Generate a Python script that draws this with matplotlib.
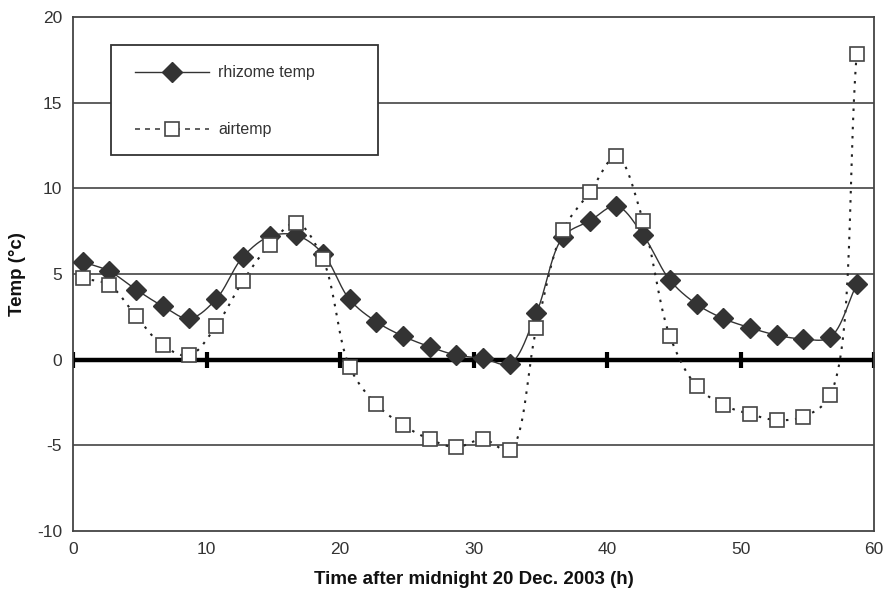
import numpy as np
import matplotlib
matplotlib.use("Agg")
import matplotlib.pyplot as plt
from matplotlib.patches import Rectangle
from matplotlib.lines import Line2D

plt.rcParams['font.family'] = ['Liberation Sans', 'DejaVu Sans']
plt.rcParams['axes.unicode_minus'] = False

hours = [0.7, 2.7, 4.7, 6.7, 8.7, 10.7, 12.7, 14.7, 16.7, 18.7,
         20.7, 22.7, 24.7, 26.7, 28.7, 30.7, 32.7, 34.7, 36.7, 38.7,
         40.7, 42.7, 44.7, 46.7, 48.7, 50.7, 52.7, 54.7, 56.7, 58.7]
rhizome_temp = [5.72, 5.17, 4.1, 3.13, 2.41, 3.54, 6.0, 7.2, 7.27, 6.2,
                3.52, 2.22, 1.38, 0.76, 0.27, 0.08, -0.23, 2.74, 7.18, 8.11,
                8.97, 7.27, 4.65, 3.25, 2.41, 1.87, 1.44, 1.21, 1.31, 4.4]
air_temp = [4.75, 4.36, 2.55, 0.84, 0.26, 1.97, 4.59, 6.69, 7.99, 5.86,
            -0.41, -2.6, -3.81, -4.64, -5.11, -4.64, -5.27, 1.83, 7.57, 9.77,
            11.88, 8.09, 1.38, -1.53, -2.64, -3.17, -3.52, -3.32, -2.06, 17.88]
x_ticks = [0, 10, 20, 30, 40, 50, 60]
y_ticks = [-10, -5, 0, 5, 10, 15, 20]


def smooth(x, y, sx=13.34, sy=17.13, n=30, alpha=0.5):
    """Centripetal Catmull-Rom display smoothing in screen-like space."""
    P = np.column_stack([np.asarray(x, float) * sx, np.asarray(y, float) * sy])
    P = np.vstack([2 * P[0] - P[1], P, 2 * P[-1] - P[-2]])
    out = []
    for i in range(1, len(P) - 2):
        p0, p1, p2, p3 = P[i - 1], P[i], P[i + 1], P[i + 2]
        t0 = 0.0
        t1 = t0 + np.linalg.norm(p1 - p0) ** alpha
        t2 = t1 + np.linalg.norm(p2 - p1) ** alpha
        t3 = t2 + np.linalg.norm(p3 - p2) ** alpha
        t = np.linspace(t1, t2, n, endpoint=False)[:, None]
        a1 = (t1 - t) / (t1 - t0) * p0 + (t - t0) / (t1 - t0) * p1
        a2 = (t2 - t) / (t2 - t1) * p1 + (t - t1) / (t2 - t1) * p2
        a3 = (t3 - t) / (t3 - t2) * p2 + (t - t2) / (t3 - t2) * p3
        b1 = (t2 - t) / (t2 - t0) * a1 + (t - t0) / (t2 - t0) * a2
        b2 = (t3 - t) / (t3 - t1) * a2 + (t - t1) / (t3 - t1) * a3
        c = (t2 - t) / (t2 - t1) * b1 + (t - t1) / (t2 - t1) * b2
        out.append(c)
    out.append(P[-2][None, :])
    out = np.vstack(out)
    return out[:, 0] / sx, out[:, 1] / sy


fig = plt.figure(figsize=(8.91, 5.94), dpi=100)
ax = fig.add_axes([0.0823, 0.106, 0.8987, 0.865])
ax.set_xlim(0, 60)
ax.set_ylim(-10, 20)

# gridlines
for yv in [-5, 5, 10, 15]:
    ax.axhline(yv, color='#444444', lw=1.2, zorder=1)

# thick zero line with tick bars
ax.plot([0, 60], [0, 0], color='black', lw=3.2, zorder=2, solid_capstyle='butt')
ax.plot(x_ticks, [0] * len(x_ticks), ls='none', marker='|', ms=12, mew=3,
        color='black', zorder=2)

# series
sx, sy = smooth(hours, air_temp)
ax.plot(sx, sy, color='#222222', lw=1.5, ls=(0, (1.2, 3.2)), zorder=3)
rx, ry = smooth(hours, rhizome_temp)
ax.plot(rx, ry, color='#333333', lw=1.0, zorder=3)
ax.plot(hours, rhizome_temp, ls='none', marker='D', ms=10.5, mfc='#333333',
        mec='#333333', zorder=4)
ax.plot(hours, air_temp, ls='none', marker='s', ms=10, mfc='white',
        mec='#444444', mew=1.2, zorder=5)

for s in ax.spines.values():
    s.set_color('#444444')
    s.set_linewidth(1.3)

ax.set_xticks(x_ticks)
ax.set_yticks(y_ticks)
ax.tick_params(length=0, labelsize=12.5, labelcolor='#333333', pad=8)
ax.set_xlabel('Time after midnight 20 Dec. 2003 (h)', fontsize=13.5,
              fontweight='bold', labelpad=10, color='#111111')
ax.set_ylabel('Temp (°c)', fontsize=13.5, fontweight='bold', labelpad=8,
              color='#111111')

# legend box (manual)
ax.add_patch(Rectangle((0.047, 0.732), 0.334, 0.214, transform=ax.transAxes,
                       fill=True, facecolor='white', edgecolor='#333333',
                       lw=1.3, zorder=6))
ax.add_line(Line2D([0.077, 0.169], [0.893, 0.893], transform=ax.transAxes,
                   color='#333333', lw=1.0, zorder=7))
ax.add_line(Line2D([0.123], [0.893], transform=ax.transAxes, marker='D',
                   ms=10.5, color='#333333', ls='none', zorder=8))
ax.text(0.181, 0.893, 'rhizome temp', transform=ax.transAxes, fontsize=11.5,
        va='center', ha='left', color='#333333', zorder=8)
ax.add_line(Line2D([0.077, 0.169], [0.782, 0.782], transform=ax.transAxes,
                   color='#444444', lw=1.2, ls=(0, (3, 3)), zorder=7))
ax.add_line(Line2D([0.123], [0.782], transform=ax.transAxes, marker='s',
                   ms=10, mfc='white', mec='#444444', mew=1.2, ls='none',
                   zorder=8))
ax.text(0.181, 0.782, 'airtemp', transform=ax.transAxes, fontsize=11.5,
        va='center', ha='left', color='#333333', zorder=8)

fig.savefig('out.png', dpi=100)
